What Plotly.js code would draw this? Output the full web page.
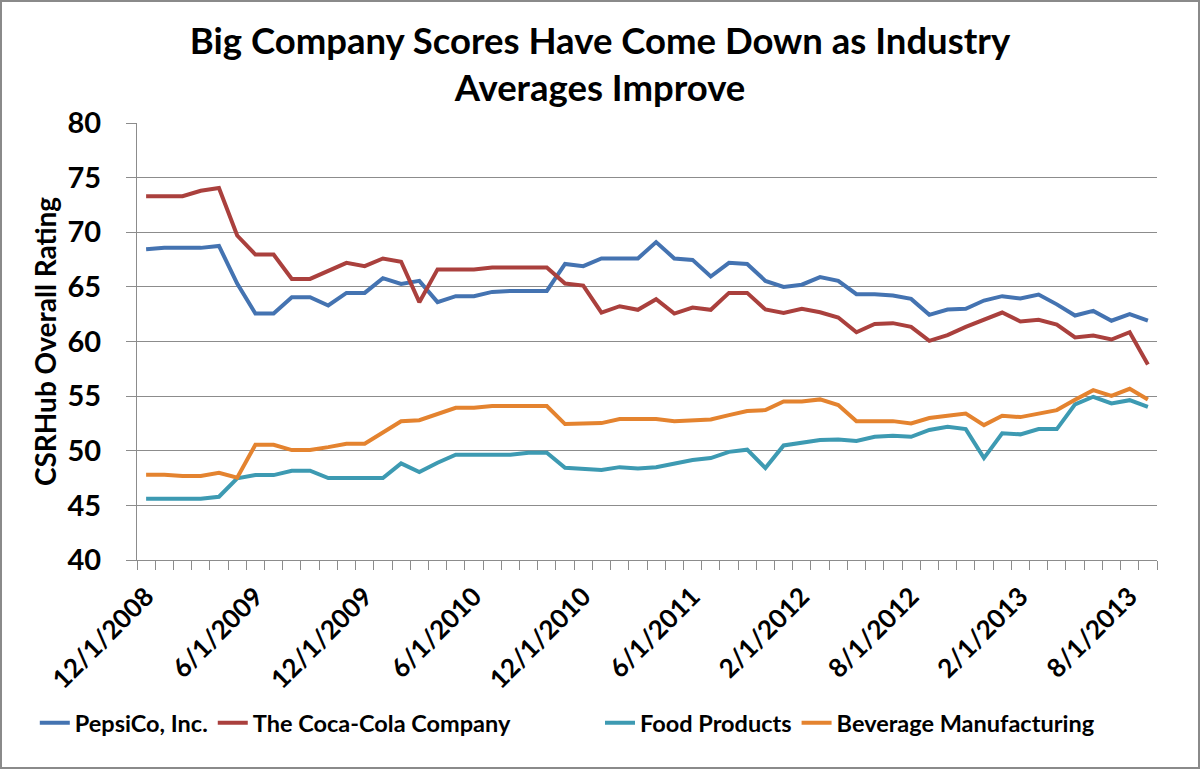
<!DOCTYPE html>
<html>
<head>
<meta charset="utf-8">
<script src="https://cdn.plot.ly/plotly-3.0.1.min.js"></script>
<style>
  body { margin: 0; background: #fff; }
  #wrap { position: relative; width: 1200px; height: 769px; }
  #chart { width: 1200px; height: 769px; }
  #frame { position: absolute; left: 0; top: 0; width: 1200px; height: 769px;
           box-sizing: border-box; border: 2px solid #8a8a8a; pointer-events: none; }
</style>
</head>
<body>
<div id="wrap">
  <div id="chart"></div>
  <div id="frame"></div>
</div>
<script>
// monthly dates (two months missing in late 2011)
var dates = [
  "12/1/2008", "1/1/2009", "2/1/2009", "3/1/2009", "4/1/2009", "5/1/2009",
  "6/1/2009", "7/1/2009", "8/1/2009", "9/1/2009", "10/1/2009", "11/1/2009",
  "12/1/2009", "1/1/2010", "2/1/2010", "3/1/2010", "4/1/2010", "5/1/2010",
  "6/1/2010", "7/1/2010", "8/1/2010", "9/1/2010", "10/1/2010", "11/1/2010",
  "12/1/2010", "1/1/2011", "2/1/2011", "3/1/2011", "4/1/2011", "5/1/2011",
  "6/1/2011", "7/1/2011", "8/1/2011", "10/1/2011", "12/1/2011", "1/1/2012",
  "2/1/2012", "3/1/2012", "4/1/2012", "5/1/2012", "6/1/2012", "7/1/2012",
  "8/1/2012", "9/1/2012", "10/1/2012", "11/1/2012", "12/1/2012", "1/1/2013",
  "2/1/2013", "3/1/2013", "4/1/2013", "5/1/2013", "6/1/2013", "7/1/2013",
  "8/1/2013", "9/1/2013"
];

var tickDates = ["12/1/2008", "6/1/2009", "12/1/2009", "6/1/2010", "12/1/2010",
  "6/1/2011", "2/1/2012", "8/1/2012", "2/1/2013", "8/1/2013"];

var pepsi = [
  68.45, 68.57, 68.57, 68.57, 68.75, 65.3, 62.56, 62.56, 64.05, 64.05,
  63.3, 64.45, 64.45, 65.8, 65.27, 65.55, 63.6, 64.15, 64.15, 64.54,
  64.63, 64.63, 64.63, 67.1, 66.9, 67.6, 67.6, 67.6, 69.1, 67.6,
  67.47, 65.95, 67.2, 67.1, 65.55, 65.0, 65.2, 65.9, 65.55, 64.33,
  64.33, 64.2, 63.9, 62.44, 62.93, 63.0, 63.75, 64.15, 63.93, 64.3,
  63.4, 62.38, 62.8, 61.9, 62.5, 61.9
];

var coke = [
  73.3, 73.3, 73.3, 73.8, 74.05, 69.7, 67.96, 67.96, 65.73, 65.73,
  66.5, 67.2, 66.9, 67.6, 67.3, 63.6, 66.6, 66.6, 66.6, 66.77,
  66.77, 66.77, 66.77, 65.3, 65.12, 62.65, 63.23, 62.9, 63.87, 62.56,
  63.1, 62.9, 64.45, 64.45, 62.93, 62.62, 62.99, 62.68, 62.2, 60.85,
  61.6, 61.68, 61.34, 60.06, 60.58, 61.34, 62.04, 62.65, 61.83, 61.98,
  61.55, 60.37, 60.55, 60.18, 60.85, 57.9
];

var food = [
  45.6, 45.6, 45.6, 45.6, 45.79, 47.47, 47.77, 47.77, 48.17, 48.17,
  47.5, 47.5, 47.5, 47.5, 48.84, 48.05, 48.9, 49.63, 49.63, 49.63,
  49.63, 49.82, 49.82, 48.45, 48.32, 48.23, 48.5, 48.38, 48.5, 48.78,
  49.15, 49.33, 49.9, 50.1, 48.41, 50.49, 50.73, 50.98, 51.04, 50.9,
  51.28, 51.37, 51.28, 51.9, 52.2, 51.98, 49.33, 51.6, 51.5, 51.98,
  51.98, 54.24, 54.94, 54.33, 54.63, 54.02
];

var beverage = [
  47.8, 47.8, 47.7, 47.7, 47.99, 47.53, 50.55, 50.55, 50.06, 50.06,
  50.33, 50.64, 50.64, 51.7, 52.7, 52.8, 53.4, 53.93, 53.93, 54.09,
  54.09, 54.09, 54.09, 52.44, 52.44, 52.53, 52.9, 52.9, 52.9, 52.71,
  52.8, 52.87, 53.26, 53.63, 53.72, 54.51, 54.51, 54.7, 54.18, 52.71,
  52.71, 52.71, 52.5, 53.0, 53.2, 53.4, 52.35, 53.2, 53.08, 53.44,
  53.72, 54.66, 55.55, 55.03, 55.67, 54.7
];

var seriesNames = ["PepsiCo, Inc.", "The Coca-Cola Company", "Food Products", "Beverage Manufacturing"];
var seriesColors = ["#4473b1", "#aa403d", "#3d9ab2", "#e4832f"];
// Excel put the legend in two groups, so two plotly legends
var seriesLegend = ["legend", "legend", "legend2", "legend2"];

var xs = dates.map(function(d, i) { return i; });
var tickIdx = tickDates.map(function(d) { return dates.indexOf(d); });

var FONT = "Lato, 'Open Sans', sans-serif";

var data = [pepsi, coke, food, beverage].map(function(vals, k) {
  return {
    x: xs,
    y: vals,
    text: dates,
    name: '<b>' + seriesNames[k] + '</b>',
    legend: seriesLegend[k],
    type: 'scatter',
    mode: 'lines',
    line: { color: seriesColors[k], width: 4 },
    hovertemplate: '%{text}: %{y}<extra>' + seriesNames[k] + '</extra>'
  };
});

var legendBase = {
  orientation: 'h',
  xref: 'container', xanchor: 'left',
  y: 0.06, yref: 'container', yanchor: 'middle',
  font: { family: FONT, size: 23.5, color: '#000' },
  itemwidth: 30,
  traceorder: 'normal',
  bgcolor: 'rgba(0,0,0,0)'
};

var layout = {
  width: 1200,
  height: 769,
  margin: { l: 137, r: 43, t: 123, b: 209 },
  paper_bgcolor: '#fff',
  plot_bgcolor: '#fff',
  font: { family: FONT, color: '#000', size: 20 },
  title: {
    text: '<b>Big Company Scores Have Come Down as Industry<br>Averages Improve</b>',
    font: { family: FONT, size: 36.5, color: '#000' },
    x: 0.5, xref: 'container', xanchor: 'center',
    y: 0.93, yref: 'container', yanchor: 'top'
  },
  xaxis: {
    range: [-0.5, dates.length - 0.5],
    tickmode: 'array',
    tickvals: tickIdx,
    ticktext: tickDates.map(function(t) { return '<b>' + t + '</b>'; }),
    tickangle: -45,
    tickfont: { family: FONT, size: 26, color: '#000' },
    ticks: 'outside',
    ticklen: 10,
    tickcolor: 'rgba(0,0,0,0)',
    minor: { tickmode: 'linear', tick0: -0.5, dtick: 1, ticks: 'outside', ticklen: 9, tickcolor: '#8c8c8c', showgrid: false },
    showgrid: false,
    zeroline: false,
    showline: true,
    linecolor: '#8c8c8c',
    linewidth: 1,
    fixedrange: true
  },
  yaxis: {
    range: [40, 80],
    dtick: 5,
    tickfont: { family: FONT, size: 29, color: '#000' },
    tickprefix: '<b>', ticksuffix: '</b>',
    ticks: 'outside',
    ticklen: 10,
    ticklabelstandoff: 19,
    tickcolor: '#8c8c8c',
    showgrid: true,
    gridcolor: '#8c8c8c',
    gridwidth: 1,
    zeroline: false,
    showline: true,
    linecolor: '#8c8c8c',
    linewidth: 1,
    title: {
      text: '<b>CSRHub Overall Rating</b>',
      font: { family: FONT, size: 28, color: '#000' },
      standoff: 2
    },
    fixedrange: true
  },
  showlegend: true,
  legend: Object.assign({}, legendBase, { x: 0.029 }),
  legend2: Object.assign({}, legendBase, { x: 0.5 }),
  hovermode: 'closest'
};

Plotly.newPlot('chart', data, layout, { displayModeBar: false });
</script>
</body>
</html>
